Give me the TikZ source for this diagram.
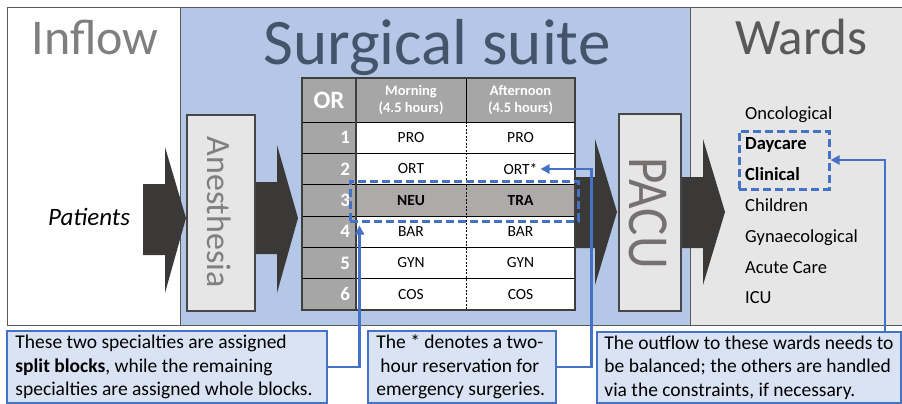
\documentclass[tikz,border=0pt]{standalone}
\usepackage{fontspec}
\setmainfont{Carlito}
\usetikzlibrary{arrows.meta}

\definecolor{suiteblue}{HTML}{B4C7E7}
\definecolor{wardgray}{HTML}{E7E6E6}
\definecolor{boxgray}{HTML}{E7E6E6}
\definecolor{arrowdark}{HTML}{3B3838}
\definecolor{accent}{HTML}{4472C4}
\definecolor{notefill}{HTML}{DAE3F3}
\definecolor{hdrgray}{HTML}{A6A6A6}
\definecolor{rowgray}{HTML}{AEAAAA}
\definecolor{titleblue}{HTML}{44546A}
\definecolor{edgegray}{HTML}{595959}
\definecolor{stagetext}{HTML}{7F7F7F}
\definecolor{pacutext}{HTML}{767171}

\tikzset{
  zone/.style={draw=edgegray, line width=0.8pt, anchor=north west, inner sep=0},
  stagebox/.style={draw=edgegray!80!black, line width=1.5pt, fill=boxgray, inner sep=0},
  hdr/.style={fill=hdrgray, text=white, inner sep=0, align=center,
    font={\bfseries\fontsize{14.5}{17.5}\selectfont}, minimum height=44},
  numcell/.style={fill=hdrgray, text=white, inner ysep=0, inner xsep=6,
    text width=42, align=right, minimum height=31.33,
    font={\bfseries\fontsize{19}{19}\selectfont}},
  cell/.style={fill=white, inner sep=0, minimum height=31.33,
    font={\fontsize{15.5}{15.5}\selectfont}},
  hotcell/.style={cell, fill=rowgray, font={\bfseries\fontsize{15.5}{15.5}\selectfont}},
  gridline/.style={draw=black, line width=0.9pt},
  selbox/.style={draw=accent, line width=3pt, dash pattern=on 8pt off 4pt, inner sep=0},
  note/.style={draw=accent, line width=1.5pt, fill=notefill, inner sep=0},
  notetext/.style={anchor=west, inner sep=0, align=left, font={\fontsize{19.5}{23.5}\selectfont}},
  link/.style={draw=accent, line width=2.6pt, -{Triangle[length=9pt,width=9pt]}},
  ward/.style={anchor=base west, inner sep=0, font={\fontsize{18.5}{18.5}\selectfont}},
  flow/.style={fill=arrowdark}
}

\begin{document}
\begin{tikzpicture}[x=1pt, y=-1pt]
\useasboundingbox (0,0) rectangle (902,404);

% three zones
\node[zone, fill=white, minimum width=173, minimum height=318] (inflow) at (7,7) {};
\node[zone, fill=suiteblue, minimum width=510, minimum height=318] (suite) at (180,7) {};
\node[zone, fill=wardgray, minimum width=215, minimum height=318] (wards) at (690,7) {};

% zone titles
\node[anchor=base, text=stagetext, inner sep=0, font={\fontsize{50}{50}\selectfont}] (tin) at (95,55) {Inflow};
\node[anchor=base, text=titleblue, inner sep=0, font={\fontsize{65}{65}\selectfont}] (tsuite) at (437,64) {Surgical suite};
\node[anchor=base, text=edgegray, inner sep=0, font={\fontsize{51}{51}\selectfont}] (tward) at (801,55) {Wards};

\node[anchor=base, inner sep=0, font={\itshape\fontsize{25}{25}\selectfont}] (pat) at (89,225) {Patients};

% flow arrows
\fill[flow] (143,184) -- (165,184) -- (165,147) -- (186,218) -- (165,293) -- (165,255) -- (143,255) -- cycle;
\fill[flow] (250,182) -- (277,182) -- (277,145) -- (298,218) -- (277,293) -- (277,254) -- (250,254) -- cycle;
\fill[flow] (570,177) -- (595,177) -- (595,139) -- (617,212) -- (595,285) -- (595,248) -- (570,248) -- cycle;
\fill[flow] (676,177) -- (703,177) -- (703,139) -- (725,212) -- (703,285) -- (703,248) -- (676,248) -- cycle;

% stage boxes
\node[stagebox, minimum width=68, minimum height=196] (anes) at (221,213) {};
\node[rotate=-90, text=stagetext, inner sep=0, font={\fontsize{34}{34}\selectfont}] (anest) at (219,212) {Anesthesia};
\node[stagebox, minimum width=62, minimum height=197] (pacu) at (650,212.5) {};
\node[rotate=-90, text=pacutext, inner sep=0, font={\fontsize{58}{58}\selectfont}] (pacut) at (648,213) {\scalebox{0.88}[1]{PACU}};

% block schedule table
\node[hdr, minimum width=54] (hOR) at (329,100) {\fontsize{25}{25}\selectfont OR};
\node[hdr, minimum width=110] (hM) at (411,100) {Morning\\(4.5 hours)};
\node[hdr, minimum width=109] (hA) at (520.5,100) {Afternoon\\(4.5 hours)};
\foreach \r/\m/\a in {1/PRO/PRO, 2/ORT/ORT*, 4/BAR/BAR, 5/GYN/GYN, 6/COS/COS}{
  \pgfmathsetmacro\yy{122+(\r-0.5)*31.333}
  \node[numcell] (n\r) at (329,\yy) {\r};
  \node[cell, minimum width=110] (m\r) at (411,\yy) {\m};
  \node[cell, minimum width=109] (a\r) at (520.5,\yy) {\a};
}
\node[numcell] (n3) at (329,200.33) {3};
\node[hotcell, minimum width=110] (m3) at (411,200.33) {NEU};
\node[hotcell, minimum width=109] (a3) at (520.5,200.33) {TRA};

\draw[gridline] (hOR.south west) -- (hA.south east);
\foreach \r in {1,...,5}{ \draw[gridline] (n\r.south west) -- (a\r.south east); }
\draw[gridline] (hM.north east) -- (hM.south east);
\draw[draw=black, line width=0.6pt, dash pattern=on 2pt off 1.5pt] (m1.north east) -- (m6.south east);
\draw[draw=edgegray!70!black, line width=1.8pt] (hOR.north east) -- (n6.south east);
\draw[draw=edgegray!70!black, line width=2.2pt] (hOR.north west) rectangle (a6.south east);

% highlighted selections
\node[selbox, minimum width=228, minimum height=40] (split) at (464,201) {};
\node[selbox, minimum width=90, minimum height=58] (wsel) at (784,160) {};

% ward list
\node[ward] (w1) at (745,119) {Oncological};
\node[ward, font={\bfseries\fontsize{18.5}{18.5}\selectfont}] (w2) at (745,149.8) {Daycare};
\node[ward, font={\bfseries\fontsize{18.5}{18.5}\selectfont}] (w3) at (745,180.6) {Clinical};
\node[ward] (w4) at (745,211.4) {Children};
\node[ward] (w5) at (745,242.2) {Gynaecological};
\node[ward] (w6) at (745,273) {Acute Care};
\node[ward] (w7) at (745,303.8) {ICU};

% notes
\node[note, minimum width=320, minimum height=72] (c1) at (167,367) {};
\node[notetext] (c1t) at ([xshift=9pt]c1.west)
  {These two specialties are assigned\\\textbf{split blocks}, while the remaining\\specialties are assigned whole blocks.};
\node[note, minimum width=188, minimum height=72] (c2) at (462,367) {};
\node[notetext] (c2t) at ([xshift=9pt]c2.west)
  {The * denotes a two-\\\hspace*{4pt}hour reservation for\\emergency surgeries.};
\node[note, minimum width=304, minimum height=71] (c3) at (749,367.5) {};
\node[notetext] (c3t) at ([xshift=8pt]c3.west)
  {The outflow to these wards needs to\\be balanced; the others are handled\\via the constraints, if necessary.};

% note connectors
\draw[link] (c1.east) -| ([xshift=11pt,yshift=-3pt]split.south west);
\draw[link] (c2.east) -- ++(35,0) |- ([xshift=20pt]a2.center);
\draw[link] ([xshift=136pt]c3.north) |- (wsel.east);
\end{tikzpicture}
\end{document}
